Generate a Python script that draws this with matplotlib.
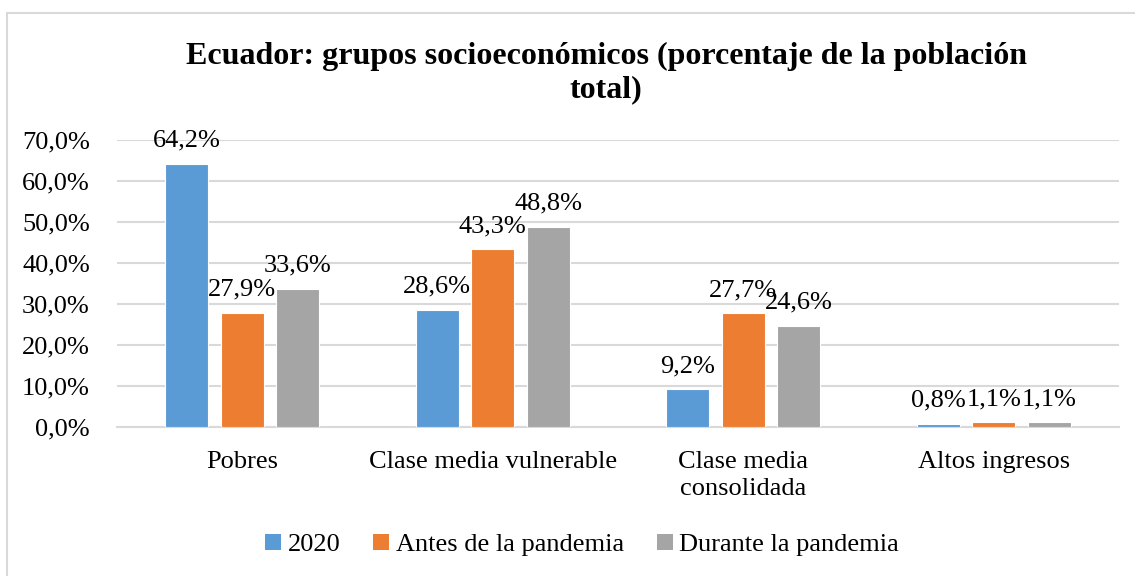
import matplotlib
matplotlib.use("Agg")
import matplotlib.pyplot as plt
from matplotlib.patches import Patch, Rectangle
import numpy as np

plt.rcParams.update({
    "font.family": "Liberation Serif",
    "font.size": 19,
})

categories = ["Pobres", "Clase media vulnerable", "Clase media\nconsolidada", "Altos ingresos"]
series_names = ["2020", "Antes de la pandemia", "Durante la pandemia"]
v2020 = [64.2, 28.6, 9.2, 0.8]
antes = [27.9, 43.3, 27.7, 1.1]
durante = [33.6, 48.8, 24.6, 1.1]
yticks = [0, 10, 20, 30, 40, 50, 60, 70]

COLORS = ["#5B9BD5", "#ED7D31", "#A5A5A5"]

W, H = 1135, 576
fig = plt.figure(figsize=(W / 100, H / 100), dpi=100)
ax = fig.add_axes([117 / W, 1 - 427 / H, (1119 - 117) / W, (427 - 140) / H])

x = np.arange(len(categories))
bar_w = 0.172
step = 0.2215
for i, (vals, name) in enumerate(zip([v2020, antes, durante], series_names)):
    pos = x + (i - 1) * step
    ax.bar(pos, vals, bar_w, color=COLORS[i], edgecolor="white", linewidth=0.8,
           zorder=3, label=name)
    for px, v in zip(pos, vals):
        ax.text(px, v + 3.0, f"{v:.1f}%".replace(".", ","), ha="center", va="bottom",
                fontsize=19, zorder=4)

ax.set_xlim(-0.5, len(categories) - 0.5)
ax.set_ylim(0, 70)
ax.set_yticks(yticks)
ax.set_yticklabels([f"{t:.1f}%".replace(".", ",") for t in yticks])
ax.set_xticks(x)
ax.set_xticklabels(categories, linespacing=1.3)
ax.tick_params(length=0)
ax.tick_params(axis="y", pad=19.5)
ax.tick_params(axis="x", pad=17)
ax.grid(axis="y", color="#D9D9D9", linewidth=1.5, zorder=0)
for s in ["top", "right", "left"]:
    ax.spines[s].set_visible(False)
ax.spines["bottom"].set_color("#D9D9D9")
ax.spines["bottom"].set_linewidth(1.5)

fig.text(606 / W, 1 - 97 / H, "Ecuador: grupos socioeconómicos (porcentaje de la población\ntotal)",
         ha="center", va="baseline", fontsize=23, fontweight="bold", linespacing=1.2)

handles = [Patch(facecolor=c, edgecolor="none") for c in COLORS]
fig.legend(handles, series_names, loc="center", bbox_to_anchor=(582 / W, 1 - 545 / H),
           ncol=3, frameon=False, fontsize=19, handlelength=0.6, handleheight=0.6,
           handletextpad=0.25, columnspacing=1.25)

fig.patches.append(Rectangle((7 / W, -0.1), 1.2, 1.1 - 13 / H, transform=fig.transFigure,
                             facecolor="none", edgecolor="#D9D9D9", linewidth=1.5, zorder=0))

fig.savefig("out.png", dpi=100)
